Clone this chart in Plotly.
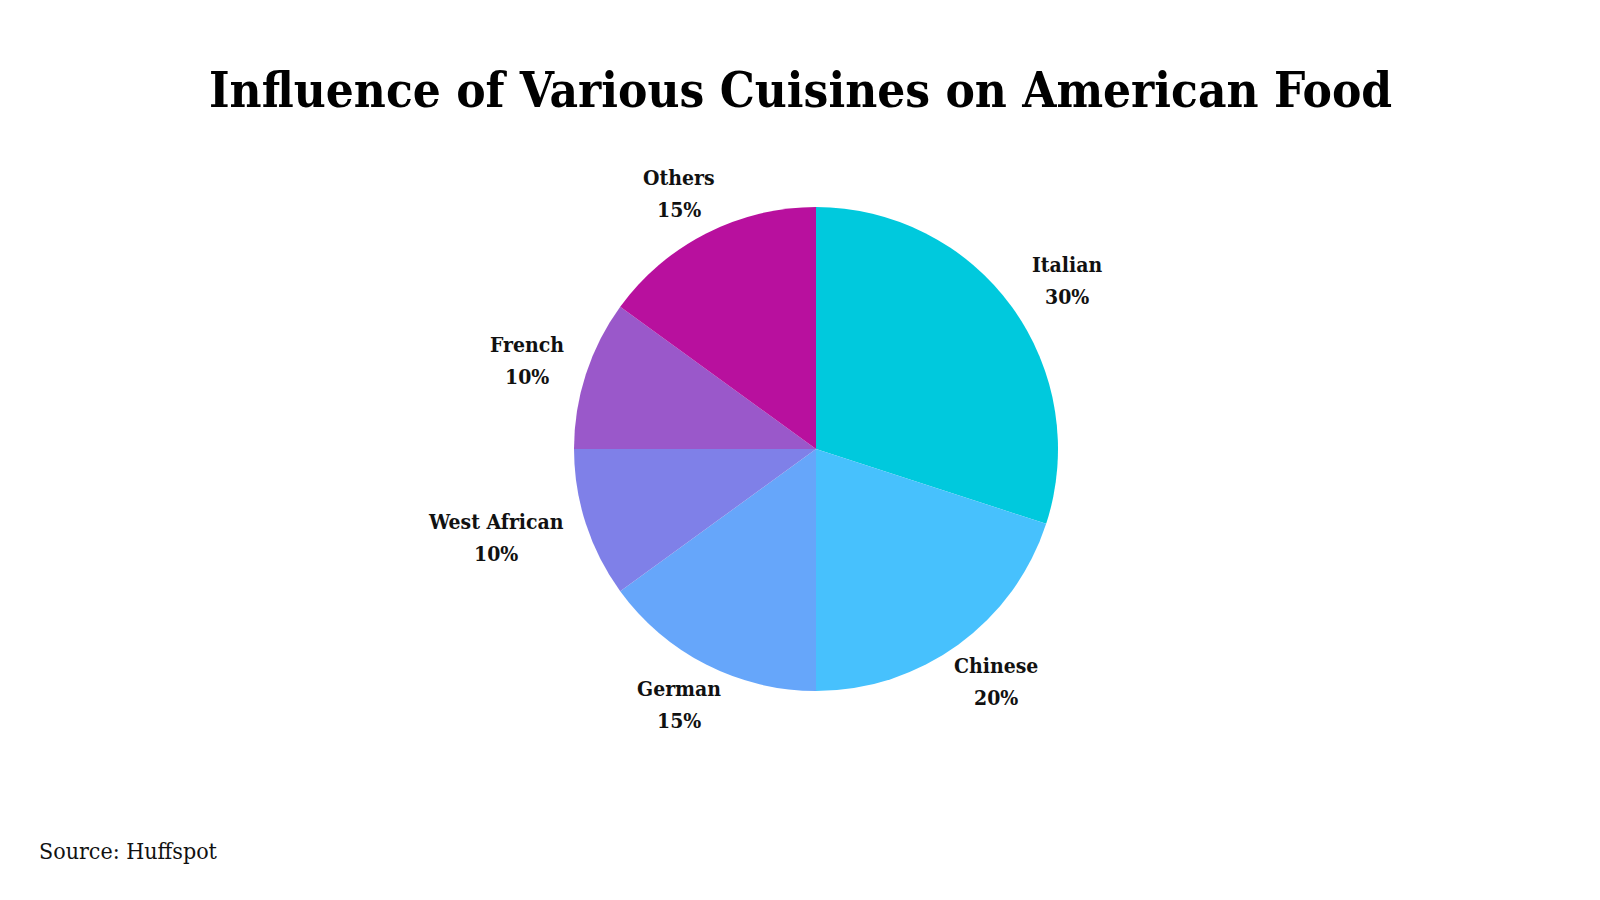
import math
import plotly.graph_objects as go

# ---- data ----
cuisines = ["Italian", "Chinese", "German", "West African", "French", "Others"]
shares = [30, 20, 15, 10, 10, 15]
colors = ["#00C9DD", "#47C1FD", "#66A6FA", "#7F80E8", "#9A58CA", "#B8109E"]
title_text = "Influence of Various Cuisines on American Food"
source_text = "Source: Huffspot"

# ---- layout constants ----
W, H = 1600, 900
OFF = 8                             # page body margin
CX, CY, R = 816 - OFF, 449 - OFF, 242   # pie centre / radius in px (figure coords)
GAP = 20                            # horizontal gap between pie edge and label box
RY = 1.08                           # vertical label radius factor
FONT = "DejaVu Serif Condensed, DejaVu Serif, serif"
LABEL_SIZE = 21
LINE_HALF = 16                      # half distance between two label lines
CHAR_W = 0.56 * LABEL_SIZE          # approx char width for box estimate

fig = go.Figure(go.Pie(
    labels=cuisines,
    values=shares,
    marker=dict(colors=colors, line=dict(width=0)),
    sort=False,
    direction="clockwise",
    rotation=0,
    textinfo="none",
    hoverinfo="label+percent",
    showlegend=False,
    domain=dict(x=[(CX - R) / W, (CX + R) / W], y=[1 - (CY + R) / H, 1 - (CY - R) / H]),
))

total = sum(shares)
cum = 0
annotations = []
for name, v in zip(cuisines, shares):
    mid = (cum + v / 2) / total * 2 * math.pi
    cum += v
    dx, dy = math.sin(mid), -math.cos(mid)   # screen coords (y down)
    pct = f"{round(v / total * 100)}%"
    half_w = max(len(name), len(pct)) * CHAR_W / 2
    half_h = LINE_HALF + LABEL_SIZE * 0.45
    dist = R + GAP + abs(dx) * half_w + abs(dy) * half_h
    lx = CX + dx * dist
    ly = CY + dy * (R * RY + half_h)
    for txt, off in ((name, -LINE_HALF), (pct, LINE_HALF)):
        annotations.append(dict(
            x=lx / W, y=1 - (ly + off) / H, xref="paper", yref="paper",
            text=f"<b>{txt}</b>", showarrow=False, xanchor="center", yanchor="middle",
            font=dict(family=FONT, size=LABEL_SIZE, color="#111111"),
        ))

annotations.append(dict(
    x=(800 - OFF) / W, y=1 - (90 - OFF) / H, xref="paper", yref="paper",
    text=f"<b>{title_text}</b>",
    showarrow=False, xanchor="center", yanchor="middle",
    font=dict(family=FONT, size=49, color="#000000"),
))
annotations.append(dict(
    x=(37 - OFF) / W, y=1 - (851 - OFF) / H, xref="paper", yref="paper", text=source_text,
    showarrow=False, xanchor="left", yanchor="middle",
    font=dict(family=FONT, size=23, color="#111111"),
))

fig.update_layout(
    width=W, height=H,
    margin=dict(l=0, r=0, t=0, b=0),
    paper_bgcolor="white", plot_bgcolor="white",
    annotations=annotations,
)

fig.write_html("out.html")
